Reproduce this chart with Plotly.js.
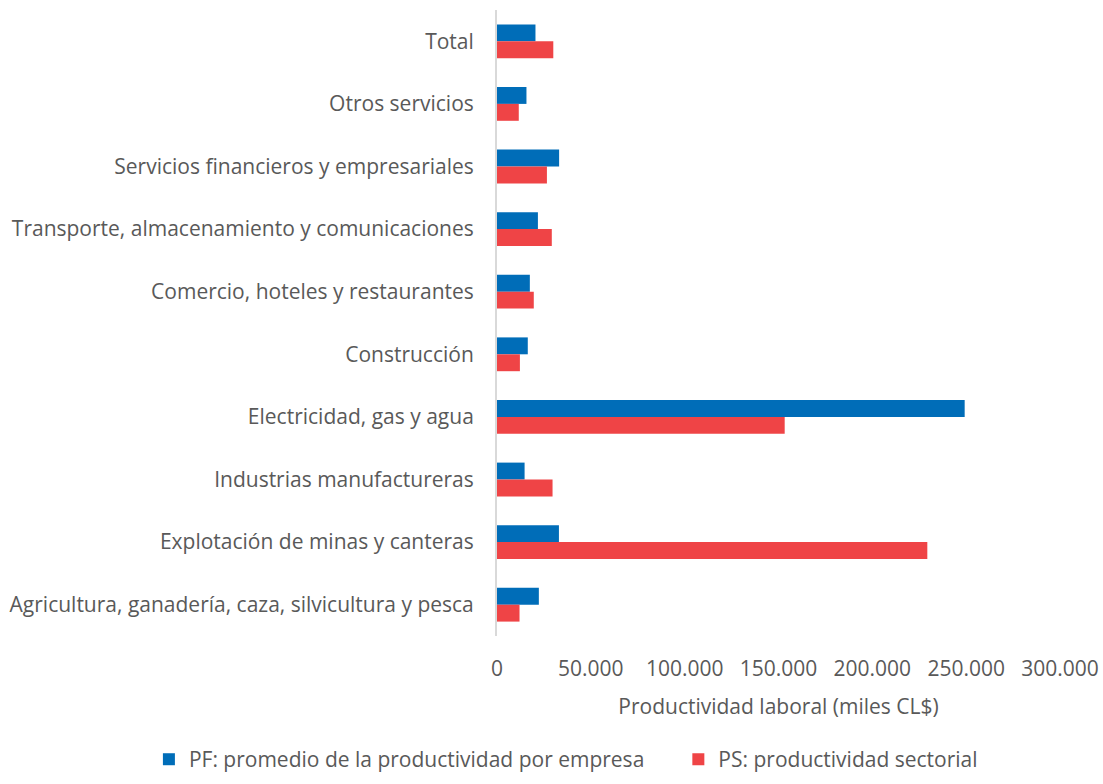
<!DOCTYPE html>
<html><head><meta charset="utf-8">
<script src="https://cdn.plot.ly/plotly-3.0.1.min.js"></script>
<style>html,body{margin:0;padding:0;background:#fff}#chart{width:1103px;height:784px}</style>
</head><body><div id="chart"></div>
<script>
const categories = [
  "Total",
  "Otros servicios",
  "Servicios financieros y empresariales",
  "Transporte, almacenamiento y comunicaciones",
  "Comercio, hoteles y restaurantes",
  "Construcción",
  "Electricidad, gas y agua",
  "Industrias manufactureras",
  "Explotación de minas y canteras",
  "Agricultura, ganadería, caza, silvicultura y pesca"
];
const pfValues = [20500, 15700, 33100, 21800, 17500, 16400, 249200, 14700, 33000, 22300];
const psValues = [30000, 11600, 26600, 29200, 19600, 12200, 153300, 29600, 229300, 12000];
const pfName = "PF: promedio de la productividad por empresa";
const psName = "PS: productividad sectorial";
const xTickVals = [0, 50000, 100000, 150000, 200000, 250000, 300000];
const xTickText = ["0", "50.000", "100.000", "150.000", "200.000", "250.000", "300.000"];

const font = {family: "Open Sans, sans-serif", size: 21, color: "#595959"};
const data = [
  {type: "bar", orientation: "h", name: pfName, y: categories, x: pfValues,
   marker: {color: "#006db8"}, legend: "legend"},
  {type: "bar", orientation: "h", name: psName, y: categories, x: psValues,
   marker: {color: "#ef4446"}, legend: "legend2"}
];
const legendBase = {orientation: "h", xref: "container", yref: "container",
                    xanchor: "left", y: 0.005, yanchor: "bottom", font: font,
                    itemwidth: 30, bgcolor: "rgba(0,0,0,0)"};
const layout = {
  width: 1103, height: 784,
  margin: {l: 497, r: 43, t: 10, b: 148},
  paper_bgcolor: "#fff", plot_bgcolor: "#fff",
  font: font,
  barmode: "group", bargap: 0.46, bargroupgap: 0,
  showlegend: true,
  legend: Object.assign({}, legendBase, {x: 0.135}),
  legend2: Object.assign({}, legendBase, {x: 0.615}),
  xaxis: {range: [0, 300000], tickvals: xTickVals, ticktext: xTickText,
          showgrid: false, zeroline: false, showline: false, ticks: "",
          tickfont: font, automargin: false, ticklabelstandoff: 18,
          title: {text: "Productividad laboral (miles CL$)", font: font, standoff: 18}},
  yaxis: {type: "category", categoryorder: "array", categoryarray: categories,
          autorange: "reversed", showgrid: false, zeroline: false,
          showline: true, linecolor: "#d9d9d9", linewidth: 2, ticks: "",
          tickfont: font, automargin: false, ticklabelstandoff: 17}
};
Plotly.newPlot("chart", data, layout, {displayModeBar: false});
</script></body></html>
